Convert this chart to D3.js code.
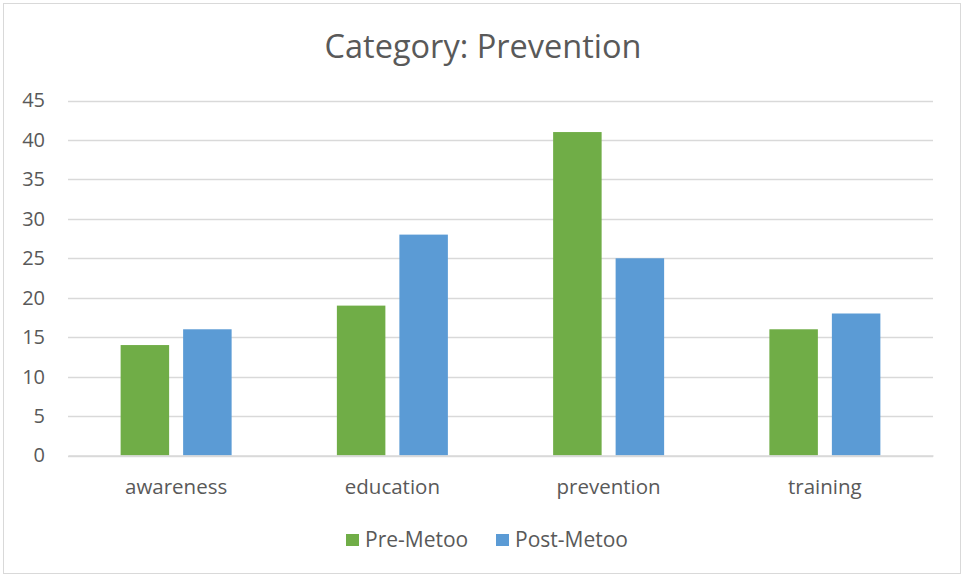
<!DOCTYPE html>
<html>
<head>
<meta charset="utf-8">
<script src="https://cdn.jsdelivr.net/npm/d3@7"></script>
<style>
  html, body { margin: 0; padding: 0; background: #fff; }
  svg { display: block; font-family: "Open Sans", sans-serif; }
</style>
</head>
<body>
<svg id="chart" width="962" height="575"></svg>
<script>
const categories = ["awareness", "education", "prevention", "training"];
const seriesNames = ["Pre-Metoo", "Post-Metoo"];
const preMetoo = [14, 19, 41, 16];
const postMetoo = [16, 28, 25, 18];
const yTicks = [0, 5, 10, 15, 20, 25, 30, 35, 40, 45];
const colors = ["#70AD47", "#5B9BD5"];

const svg = d3.select("#chart");
const W = 962, H = 575;
const plotLeft = 68, plotRight = 933, plotTop = 100.5, plotBottom = 455.5;

// chart frame
svg.append("rect")
  .attr("x", 3.5).attr("y", 3.5)
  .attr("width", W - 5).attr("height", H - 5)
  .attr("fill", "#fff").attr("stroke", "#d9d9d9").attr("stroke-width", 1);

// title
svg.append("text")
  .attr("x", 483).attr("y", 58)
  .attr("text-anchor", "middle")
  .attr("font-size", 32.5)
  .attr("fill", "#595959")
  .text("Category: Prevention");

const x = d3.scaleBand().domain(categories).range([plotLeft, plotRight]);
const y = d3.scaleLinear().domain([0, 45]).range([plotBottom, plotTop]);
const inner = d3.scaleBand().domain(seriesNames)
  .range([0, 111]).paddingInner(0.224);

// gridlines
svg.append("g").selectAll("line").data(yTicks).join("line")
  .attr("x1", plotLeft).attr("x2", plotRight)
  .attr("y1", d => Math.round(y(d)) + 0.5).attr("y2", d => Math.round(y(d)) + 0.5)
  .attr("stroke", "#d9d9d9").attr("stroke-width", 1.3);

// y axis labels
const yAxis = d3.axisLeft(y).tickValues(yTicks).tickSize(0).tickPadding(0);
const ya = svg.append("g").attr("transform", `translate(45,0)`).call(yAxis);
ya.select(".domain").remove();
ya.selectAll("text")
  .attr("font-size", 20).attr("fill", "#595959")
  .attr("font-family", "'Open Sans', sans-serif");

// bars
const rows = categories.map((c, i) => ({ cat: c, vals: [preMetoo[i], postMetoo[i]] }));
const groups = svg.append("g").selectAll("g").data(rows).join("g")
  .attr("transform", d => `translate(${x(d.cat) + x.bandwidth() / 2 - 55.5},0)`);
groups.selectAll("rect")
  .data(d => d.vals.map((v, k) => ({ name: seriesNames[k], v, k })))
  .join("rect")
  .attr("x", d => inner(d.name))
  .attr("width", inner.bandwidth())
  .attr("y", d => y(d.v))
  .attr("height", d => y(0) - y(d.v))
  .attr("fill", d => colors[d.k]);

// x axis
const xAxis = d3.axisBottom(x).tickSize(0).tickPadding(0);
const xa = svg.append("g").attr("transform", `translate(0,${plotBottom})`).call(xAxis);
xa.select(".domain").attr("stroke", "#d9d9d9").attr("stroke-width", 1.3);
xa.selectAll("text")
  .attr("dy", 0).attr("y", 38)
  .attr("font-size", 20.5).attr("fill", "#595959")
  .attr("font-family", "'Open Sans', sans-serif");

// legend
const legendItems = [
  { name: seriesNames[0], color: colors[0], x: 346 },
  { name: seriesNames[1], color: colors[1], x: 496 }
];
const lg = svg.append("g").selectAll("g").data(legendItems).join("g")
  .attr("transform", d => `translate(${d.x},534)`);
lg.append("rect").attr("width", 13).attr("height", 12).attr("fill", d => d.color);
lg.append("text").attr("x", 19).attr("y", 12.5)
  .attr("font-size", 21).attr("fill", "#595959")
  .text(d => d.name);
</script>
</body>
</html>
